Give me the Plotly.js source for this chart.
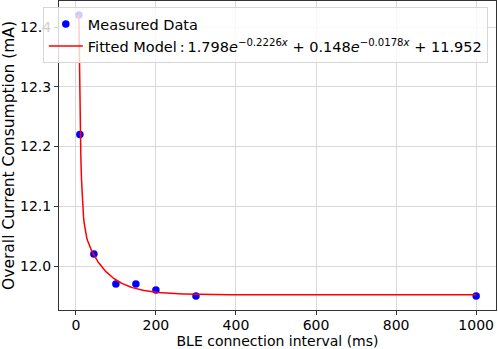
<!DOCTYPE html>
<html>
<head>
<meta charset="utf-8">
<script src="https://cdn.plot.ly/plotly-3.0.1.min.js"></script>
<style>
  html, body { margin: 0; padding: 0; background: #fff; }
  #chart { width: 498px; height: 349px; }
</style>
</head>
<body>
<div id="chart"></div>
<script>
// measured points
const interval_ms = [7.5, 10, 45, 100, 150, 200, 300, 1000];
const current_mA = [12.42, 12.22, 12.02, 11.97, 11.97, 11.96, 11.95, 11.95];

// fitted model coefficients as printed in the legend: a1*e^(b1 x) + a2*e^(b2 x) + c
const fit_amp = [1.798, 0.148];
const fit_rate = [-0.2226, -0.0178];
const fit_offset = 11.952;

const x_ticks = [0, 200, 400, 600, 800, 1000];
const y_ticks = [12.0, 12.1, 12.2, 12.3, 12.4];

// evaluate the fitted model over the measured interval span
function fittedModel(x) {
  let y = fit_offset;
  for (let k = 0; k < fit_amp.length; k++) {
    y += fit_amp[k] * Math.exp(fit_rate[k] * x);
  }
  return y;
}

let fit_x = [], fit_y = [];
const x_lo = interval_ms[0], x_hi = interval_ms[interval_ms.length - 1];
for (let i = 0; i <= 600; i++) {
  let x = x_lo + (x_hi - x_lo) * i / 600;
  fit_x.push(x);
  fit_y.push(fittedModel(x));
}

const measured = {
  x: interval_ms,
  y: current_mA,
  mode: 'markers',
  name: 'Measured Data',
  marker: { color: '#0000ff', size: 7.5 }
};

const fitted = {
  x: fit_x,
  y: fit_y,
  mode: 'lines',
  name: 'Fitted Model\u2009:\u20091.798<i>e</i><sup>\u22120.2226<i>x</i></sup> + 0.148<i>e</i><sup>\u22120.0178<i>x</i></sup> + 11.952',
  line: { color: '#ff0000', width: 1.5 }
};

const fam = 'DejaVu Sans, sans-serif';
const tickFont = { family: fam, size: 14, color: '#000' };

const layout = {
  width: 498,
  height: 349,
  margin: { l: 59, r: 2, t: 1, b: 39 },
  paper_bgcolor: '#fff',
  plot_bgcolor: '#fff',
  font: tickFont,
  showlegend: true,
  legend: {
    x: -0.037, y: 0.98, xanchor: 'left', yanchor: 'top',
    bgcolor: 'rgba(255,255,255,0.8)',
    bordercolor: '#d6d6d6', borderwidth: 1,
    itemwidth: 34,
    font: { family: fam, size: 14.5, color: '#000' }
  },
  xaxis: {
    range: [-42.1, 1049.6],
    tickvals: x_ticks,
    ticktext: x_ticks.map(String),
    ticks: 'outside', ticklen: 4, tickcolor: '#333',
    ticklabelstandoff: -2,
    tickfont: tickFont,
    showgrid: true, gridcolor: '#d9d9d9', gridwidth: 1,
    zeroline: false,
    showline: true, linecolor: '#333', linewidth: 1, mirror: true,
    title: { text: 'BLE connection interval (ms)', font: { family: fam, size: 14, color: '#000' }, standoff: 0 }
  },
  yaxis: {
    range: [11.9265, 12.4435],
    tickvals: y_ticks,
    ticktext: y_ticks.map(v => v.toFixed(1)),
    ticks: 'outside', ticklen: 4, tickcolor: '#333',
    tickfont: tickFont,
    showgrid: true, gridcolor: '#d9d9d9', gridwidth: 1,
    zeroline: false,
    showline: true, linecolor: '#333', linewidth: 1, mirror: true,
    title: { text: 'Overall Current Consumption (mA)', font: { family: fam, size: 15.5, color: '#000' }, standoff: 3 }
  }
};

Plotly.newPlot('chart', [measured, fitted], layout, { displayModeBar: false, staticPlot: true });
</script>
</body>
</html>
